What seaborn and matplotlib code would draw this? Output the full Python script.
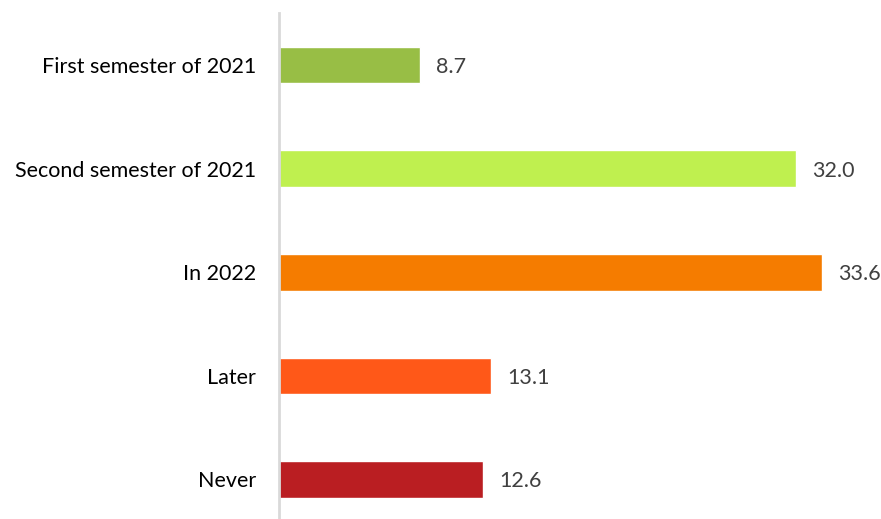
import matplotlib
matplotlib.use("Agg")
import matplotlib.pyplot as plt
import seaborn as sns
import pandas as pd

categories = ["First semester of 2021", "Second semester of 2021", "In 2022", "Later", "Never"]
values = [8.7, 32.0, 33.6, 13.1, 12.6]
bar_colors = ["#98BE45", "#BFF04F", "#F57C00", "#FF5818", "#BA1E22"]

df = pd.DataFrame({"period": categories, "share": values})

sns.set_theme(style="white")
plt.rcParams["font.family"] = ["Lato", "DejaVu Sans"]

fig = plt.figure(figsize=(8.81, 5.19), dpi=100)
ax = fig.add_axes([0.3172, -0.0237, 0.660, 0.9983])

sns.barplot(data=df, y="period", x="share", hue="period", palette=bar_colors,
            order=categories, hue_order=categories, orient="h",
            width=0.353, legend=False, ax=ax, saturation=1)

ax.set_xlim(0, 36)
ax.set_ylim(4.5, -0.5)
ax.set_xlabel("")
ax.set_ylabel("")
ax.set_xticks([])

for side in ["top", "right", "bottom"]:
    ax.spines[side].set_visible(False)
ax.spines["left"].set_color("#D9D9D9")
ax.spines["left"].set_linewidth(2)

ax.tick_params(axis="y", length=0, pad=17, labelsize=15.5, labelcolor="#000000")

for i, v in enumerate(values):
    ax.annotate(f"{v:.1f}", xy=(v, i), xytext=(11.5, 0), textcoords="offset points",
                va="center_baseline", ha="left", fontsize=15.5, color="#404040")

fig.savefig("out.png", dpi=100)
